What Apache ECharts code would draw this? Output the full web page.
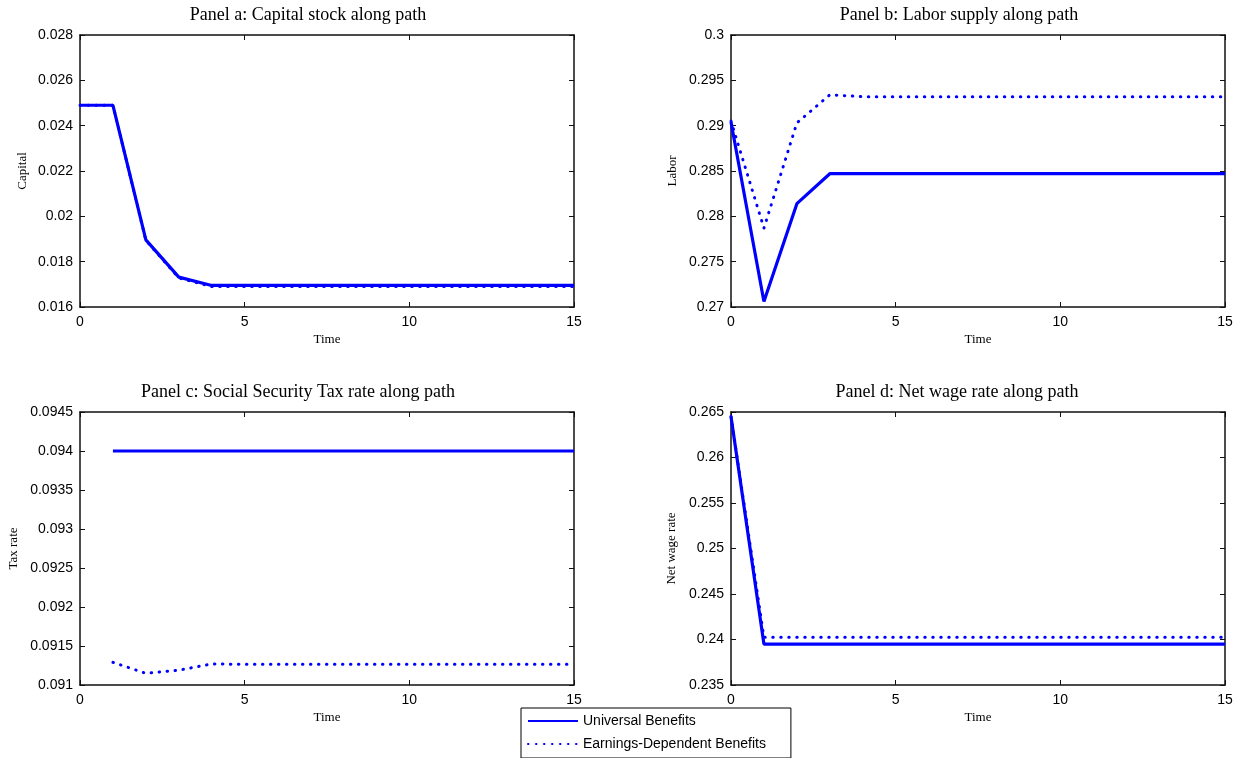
<!DOCTYPE html>
<html>
<head>
<meta charset="utf-8">
<script src="https://cdn.jsdelivr.net/npm/echarts@6/dist/echarts.min.js"></script>
<style>
html,body{margin:0;padding:0;background:#fff;}
#chart{width:1251px;height:758px;}
</style>
</head>
<body>
<div id="chart"></div>
<script>
// ---- data ----
const time = [0,1,2,3,4,5,6,7,8,9,10,11,12,13,14,15];
const seriesNames = ['Universal Benefits', 'Earnings-Dependent Benefits'];

const capitalUniversal = [0.02490,0.02490,0.01896,0.01732,0.01695,0.01695,0.01695,0.01695,0.01695,0.01695,0.01695,0.01695,0.01695,0.01695,0.01695,0.01695];
const capitalEarnings  = [0.02490,0.02490,0.01894,0.01728,0.01690,0.01690,0.01690,0.01690,0.01690,0.01690,0.01690,0.01690,0.01690,0.01690,0.01690,0.01690];

const laborUniversal = [0.2904,0.2706,0.2814,0.2847,0.2847,0.2847,0.2847,0.2847,0.2847,0.2847,0.2847,0.2847,0.2847,0.2847,0.2847,0.2847];
const laborEarnings  = [0.2905,0.2787,0.2903,0.2934,0.2932,0.2932,0.2932,0.2932,0.2932,0.2932,0.2932,0.2932,0.2932,0.2932,0.2932,0.2932];

const taxUniversal = [null,0.0940,0.0940,0.0940,0.0940,0.0940,0.0940,0.0940,0.0940,0.0940,0.0940,0.0940,0.0940,0.0940,0.0940,0.0940];
const taxEarnings  = [null,0.09129,0.09115,0.09119,0.09127,0.091265,0.091265,0.091265,0.091265,0.091265,0.091265,0.091265,0.091265,0.091265,0.091265,0.091265];

const wageUniversal = [0.2645,0.2395,0.2395,0.2395,0.2395,0.2395,0.2395,0.2395,0.2395,0.2395,0.2395,0.2395,0.2395,0.2395,0.2395,0.2395];
const wageEarnings  = [0.2645,0.24024,0.24024,0.24024,0.24024,0.24024,0.24024,0.24024,0.24024,0.24024,0.24024,0.24024,0.24024,0.24024,0.24024,0.24024];

// tick labels
const xTicks = [0, 5, 10, 15];
const capitalTicks = [0.016,0.018,0.02,0.022,0.024,0.026,0.028];
const laborTicks   = [0.27,0.275,0.28,0.285,0.29,0.295,0.3];
const taxTicks     = [0.091,0.0915,0.092,0.0925,0.093,0.0935,0.094,0.0945];
const wageTicks    = [0.235,0.24,0.245,0.25,0.255,0.26,0.265];

const titles = ['Panel a: Capital stock along path','Panel b: Labor supply along path','Panel c: Social Security Tax rate along path','Panel d: Net wage rate along path'];
const yNames = ['Capital','Labor','Tax rate','Net wage rate'];

// ---- layout ----
const grids = [
  {left:80, top:35, width:494, height:272},
  {left:731, top:35, width:494, height:272},
  {left:80, top:412, width:494, height:273},
  {left:731, top:412, width:494, height:273}
];
const titlePos = [[308,6],[959,6],[298,383],[957,383]];
const yNameGaps = [51,52,60,53];
const panelTicks = [capitalTicks, laborTicks, taxTicks, wageTicks];
const panelData = [[capitalUniversal,capitalEarnings],[laborUniversal,laborEarnings],[taxUniversal,taxEarnings],[wageUniversal,wageEarnings]];

const serif = 'Liberation Serif, Times New Roman, serif';
const sans = 'Liberation Sans, Arial, sans-serif';
const lineCol = '#111';
const dotted = [0.5, 7.5];

function fmt(v){ return String(parseFloat(Number(v).toFixed(6))); }

const xAxes = [], yAxes = [], series = [], titleComps = [];
for (let i = 0; i < 4; i++) {
  const ticks = panelTicks[i];
  const yMin = ticks[0], yMax = ticks[ticks.length-1], yInt = ticks[1]-ticks[0];
  const xMin = xTicks[0], xMax = xTicks[xTicks.length-1], xInt = xTicks[1]-xTicks[0];
  titleComps.push({
    text: titles[i], left: titlePos[i][0], top: titlePos[i][1], textAlign: 'center', padding: 0,
    textStyle: {fontFamily: serif, fontSize: 18, fontWeight: 'normal', color: '#000'}
  });
  const axisLine = {show: true, onZero: false, lineStyle: {color: lineCol, width: 1.5}};
  const axisTick = {show: true, inside: true, length: 5, lineStyle: {color: lineCol, width: 1}};
  xAxes.push({
    type: 'value', gridIndex: i, min: xMin, max: xMax, interval: xInt, position: 'bottom',
    name: 'Time', nameLocation: 'middle', nameGap: 26,
    nameTextStyle: {fontFamily: serif, fontSize: 13, color: '#000'},
    axisLine, axisTick,
    axisLabel: {fontFamily: sans, fontSize: 14, color: '#000', margin: 8, formatter: fmt},
    splitLine: {show: false}
  });
  xAxes.push({
    type: 'value', gridIndex: i, min: xMin, max: xMax, interval: xInt, position: 'top',
    axisLine, axisTick, axisLabel: {show: false}, splitLine: {show: false}
  });
  yAxes.push({
    type: 'value', gridIndex: i, min: yMin, max: yMax, interval: yInt, position: 'left',
    name: yNames[i], nameLocation: 'middle', nameGap: yNameGaps[i],
    nameTextStyle: {fontFamily: serif, fontSize: 13, color: '#000'},
    axisLine, axisTick,
    axisLabel: {fontFamily: sans, fontSize: 14, color: '#000', margin: 7, formatter: fmt},
    splitLine: {show: false}
  });
  yAxes.push({
    type: 'value', gridIndex: i, min: yMin, max: yMax, interval: yInt, position: 'right',
    axisLine, axisTick, axisLabel: {show: false}, splitLine: {show: false}
  });
  const [uni, earn] = panelData[i];
  series.push({
    name: seriesNames[1], type: 'line', xAxisIndex: 2*i, yAxisIndex: 2*i,
    data: time.map((t, k) => [t, earn[k]]), symbol: 'none', animation: false,
    lineStyle: {color: '#0000ff', width: 3, type: dotted, cap: 'round'},
    itemStyle: {color: '#0000ff'}
  });
  series.push({
    name: seriesNames[0], type: 'line', xAxisIndex: 2*i, yAxisIndex: 2*i,
    data: time.map((t, k) => [t, uni[k]]), symbol: 'none', animation: false,
    lineStyle: {color: '#0000ff', width: 3.2, type: 'solid'},
    itemStyle: {color: '#0000ff'}
  });
}

const chart = echarts.init(document.getElementById('chart'), null, {renderer: 'canvas'});
chart.setOption({
  backgroundColor: '#fff',
  animation: false,
  title: titleComps,
  grid: grids,
  xAxis: xAxes,
  yAxis: yAxes,
  legend: {
    data: seriesNames, orient: 'vertical', left: 521, top: 708,
    padding: [6, 25, 7, 6], itemWidth: 50, itemHeight: 14, itemGap: 9,
    borderColor: '#000', borderWidth: 1, backgroundColor: '#fff',
    selectedMode: false,
    itemStyle: {opacity: 0, color: 'transparent', borderWidth: 0},
    textStyle: {fontFamily: sans, fontSize: 14, color: '#000'}
  },
  series: series
});
</script>
</body>
</html>
